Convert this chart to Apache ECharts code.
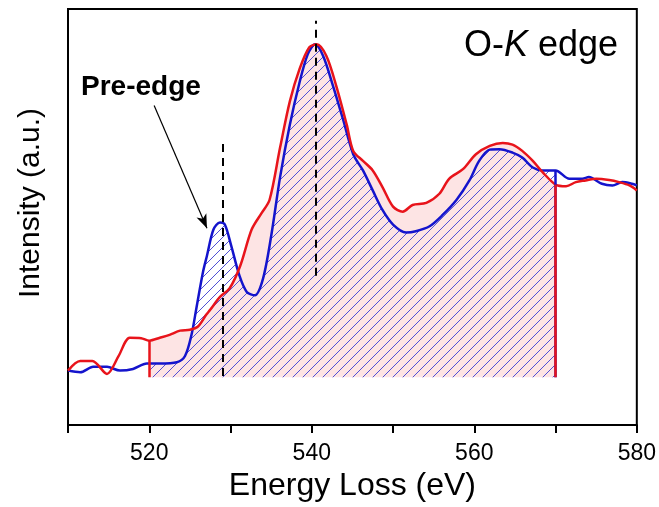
<!DOCTYPE html>
<html>
<head>
<meta charset="utf-8">
<script src="https://cdn.jsdelivr.net/npm/echarts@6/dist/echarts.min.js"></script>
<style>
  html, body { margin: 0; padding: 0; background: #fff; }
  #chart { width: 659px; height: 507px; }
</style>
</head>
<body>
<div id="chart"></div>
<script>
// red spectrum (energy in eV, intensity a.u.)
var redEnergy = [510, 511.5, 513, 514.8, 516.2, 517.6, 519, 520, 521.3, 522.5, 523.8, 525, 526, 527, 527.5,
  528.7, 529.9, 531.2, 532.6, 533.8, 534.8, 536.1, 537.3, 538.5, 539.7, 540.6, 541.8, 543, 544.3, 545.1,
  546.3, 547.5, 548.7, 550, 551.2, 552.4, 554.1, 555.7, 556.9, 558.6, 560.2, 561.9, 563.5, 564.7, 565.9,
  567.2, 568.4, 570, 571.3, 572.5, 573.7, 575, 576.6, 577.8, 579.1, 580]
var redIntensity = [0.131, 0.154, 0.154, 0.123, 0.165, 0.210, 0.209, 0.203, 0.210, 0.217, 0.227, 0.229, 0.237, 0.265, 0.277,
  0.308, 0.329, 0.383, 0.470, 0.509, 0.541, 0.667, 0.778, 0.856, 0.908, 0.915, 0.887, 0.816, 0.722, 0.659,
  0.635, 0.612, 0.572, 0.525, 0.513, 0.529, 0.534, 0.556, 0.592, 0.615, 0.651, 0.671, 0.678, 0.674, 0.659,
  0.635, 0.608, 0.578, 0.574, 0.584, 0.588, 0.592, 0.589, 0.584, 0.576, 0.564]

// blue spectrum
var blueEnergy = [510, 511.5, 513.1, 514.8, 516.4, 518, 519.7, 520, 521.3, 523.4, 524.4, 525.2, 525.8, 526.6, 527.1,
  527.9, 528.7, 529.3, 530.1, 531.1, 532, 533, 534, 535, 536.1, 537.3, 538.5, 539.5, 540.4, 541.4,
  542.6, 543.8, 545.1, 546.3, 547.5, 548.7, 550, 551.6, 552.8, 554.5, 556.1, 557.8, 559.4, 560.6, 561.9,
  563.1, 564.7, 565.9, 567.2, 568.4, 570, 571.7, 573.3, 574.1, 575.7, 577, 578.2, 579.4, 580]
var blueIntensity = [0.131, 0.127, 0.140, 0.140, 0.131, 0.135, 0.148, 0.148, 0.148, 0.151, 0.166, 0.217, 0.281, 0.367, 0.407,
  0.470, 0.487, 0.482, 0.430, 0.359, 0.320, 0.312, 0.352, 0.454, 0.596, 0.722, 0.824, 0.891, 0.915, 0.887,
  0.816, 0.738, 0.651, 0.612, 0.564, 0.517, 0.482, 0.463, 0.466, 0.478, 0.505, 0.541, 0.588, 0.635, 0.662,
  0.663, 0.655, 0.643, 0.619, 0.612, 0.612, 0.592, 0.592, 0.596, 0.580, 0.576, 0.584, 0.580, 0.576]

// integration window and its baseline
var windowRange = [520, 570]
var baseline = 0.115

// dashed guide lines: energy, bottom, top
var guideEnergy = [529.1, 540.5]
var guideBottom = [0.118, 0.359]
var guideTop = [0.678, 0.972]

// arrow pointing at the pre-edge peak
var arrowStart = [520.6, 0.768]
var arrowEnd = [527.1, 0.473]

var xTicks = [520, 540, 560, 580]

var RED = '#e8141b'
var BLUE = '#1414cc'
var FONT = "'Liberation Sans', Arial, sans-serif"

function pairs(xs, ys) {
  return xs.map(function (x, i) { return [x, ys[i]] })
}
function inWindow(p) {
  return p[0] >= windowRange[0] && p[0] <= windowRange[1]
}

var redData = pairs(redEnergy, redIntensity)
var blueData = pairs(blueEnergy, blueIntensity)
var redWin = redData.filter(inWindow)
var blueWin = blueData.filter(inWindow)

function hatch() {
  var c = document.createElement('canvas')
  c.width = 10
  c.height = 10
  var g = c.getContext('2d')
  g.strokeStyle = '#4f4fd6'
  g.lineWidth = 1
  g.beginPath()
  g.moveTo(0, 10); g.lineTo(10, 0)
  g.moveTo(-5, 5); g.lineTo(5, -5)
  g.moveTo(5, 15); g.lineTo(15, 5)
  g.stroke()
  return c
}

function vEdge(x, y, color) {
  return [{ coord: [x, baseline], lineStyle: { color: color, width: 2.5, type: 'solid' } }, { coord: [x, y] }]
}

var guides = guideEnergy.map(function (x, i) {
  return [{ coord: [x, guideBottom[i]], lineStyle: { color: '#000', width: 2, type: [8, 6] } },
          { coord: [x, guideTop[i]] }]
})

var myChart = echarts.init(document.getElementById('chart'))
myChart.setOption({
  animation: false,
  grid: { left: 68, right: 21, top: 9, bottom: 75, show: true, borderColor: '#000', borderWidth: 2 },
  xAxis: {
    type: 'value', min: 510, max: 580, interval: 10,
    name: 'Energy Loss (eV)', nameLocation: 'middle', nameGap: 43,
    nameTextStyle: { fontSize: 32, color: '#000', fontFamily: FONT },
    axisLine: { lineStyle: { color: '#000', width: 2 } },
    axisTick: { length: 8, lineStyle: { color: '#000', width: 2 } },
    axisLabel: {
      fontSize: 23, color: '#000', fontFamily: FONT, margin: 17,
      formatter: function (v) { return xTicks.indexOf(v) >= 0 ? String(v) : '' }
    },
    splitLine: { show: false }
  },
  yAxis: {
    type: 'value', min: 0, max: 1,
    name: 'Intensity (a.u.)', nameLocation: 'middle', nameGap: 22,
    nameTextStyle: { fontSize: 30, color: '#000', fontFamily: FONT, padding: [0, 0, 0, 28] },
    axisLine: { show: true, lineStyle: { color: '#000', width: 2 } },
    axisTick: { show: false },
    axisLabel: { show: false },
    splitLine: { show: false }
  },
  series: [
    {
      type: 'line', data: redWin, smooth: 0.3, symbol: 'none', silent: true,
      lineStyle: { width: 0 },
      areaStyle: { color: '#fde4e4', opacity: 1, origin: baseline }
    },
    {
      type: 'line', data: blueWin, smooth: 0.3, symbol: 'none', silent: true,
      lineStyle: { width: 0 },
      areaStyle: { color: { image: hatch(), repeat: 'repeat' }, opacity: 1, origin: baseline }
    },
    {
      type: 'line', data: blueData, smooth: 0.3, symbol: 'none', silent: true,
      lineStyle: { color: BLUE, width: 2.5 },
      markLine: {
        silent: true, symbol: ['none', 'none'], label: { show: false },
        data: [vEdge(windowRange[1], blueWin[blueWin.length - 1][1], BLUE)]
      }
    },
    {
      type: 'line', data: redData, smooth: 0.3, symbol: 'none', silent: true,
      lineStyle: { color: RED, width: 2.5 },
      markLine: {
        silent: true, symbol: ['none', 'none'], label: { show: false },
        data: [
          vEdge(windowRange[0], redWin[0][1], RED),
          vEdge(windowRange[1], redWin[redWin.length - 1][1], RED)
        ].concat(guides).concat([[
          { coord: arrowStart, symbol: 'none', lineStyle: { color: '#000', width: 1.2, type: 'solid' } },
          { coord: arrowEnd, symbol: 'arrow', symbolSize: [8, 14] }
        ]])
      }
    }
  ],
  graphic: [
    {
      type: 'text', left: 81, top: 73, silent: true,
      style: { text: 'Pre-edge', font: 'bold 28px ' + FONT, fill: '#000' }
    },
    {
      type: 'text', left: 464, top: 28, silent: true,
      style: {
        text: '{a|O-}{b|K}{a| edge}',
        rich: {
          a: { fontSize: 36, fontFamily: FONT, fill: '#000' },
          b: { fontSize: 36, fontFamily: FONT, fontStyle: 'italic', fill: '#000' }
        }
      }
    }
  ]
})
</script>
</body>
</html>
